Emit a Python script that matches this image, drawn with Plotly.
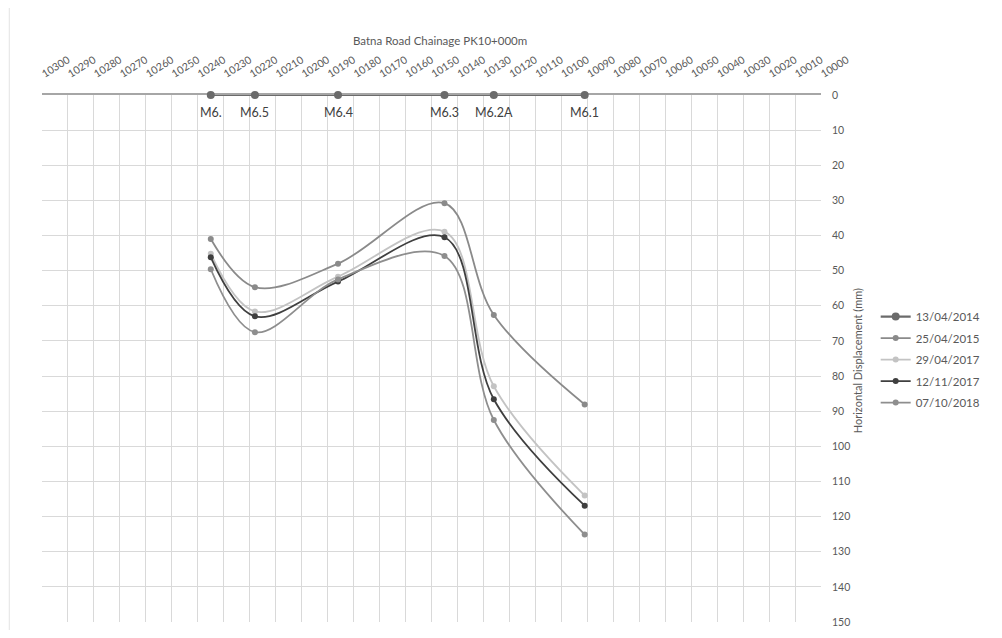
import plotly.graph_objects as go

# ---- data ----
chainage = [10235, 10218, 10186, 10145, 10126, 10091]
point_labels = ["M6.", "M6.5", "M6.4", "M6.3", "M6.2A", "M6.1"]

d_2014 = [0, 0, 0, 0, 0, 0]
d_2015 = [41.0, 54.7, 48.0, 30.8, 62.6, 88.1]
d_2017a = [45.2, 61.6, 51.7, 38.9, 82.9, 114.0]
d_2017b = [46.2, 63.0, 53.1, 40.5, 86.6, 116.9]
d_2018 = [49.6, 67.5, 52.5, 45.8, 92.5, 125.1]

series_names = ["13/04/2014", "25/04/2015", "29/04/2017", "12/11/2017", "07/10/2018"]

x_ticks = list(range(10000, 10301, 10))
y_ticks = list(range(0, 151, 10))

FONT = "Lato"
TXT = "#595959"
GRID = "#d9d9d9"

fig = go.Figure()

series = [
    (series_names[0], d_2014, "#6b6b6b", 8, 2.2),
    (series_names[1], d_2015, "#8a8a8a", 6, 1.8),
    (series_names[2], d_2017a, "#c3c3c3", 6, 1.8),
    (series_names[3], d_2017b, "#3f3f3f", 6, 1.8),
    (series_names[4], d_2018, "#8e8e8e", 6, 1.8),
]

for i, (name, vals, col, msize, lw) in enumerate(series):
    fig.add_trace(
        go.Scatter(
            x=chainage,
            y=vals,
            name=name,
            legendgroup=name,
            mode="lines+markers",
            cliponaxis=False if i == 0 else True,
            line=dict(color=col, width=lw, shape="spline"),
            marker=dict(color=col, size=msize),
        )
    )

# point labels under the baseline markers
annotations = [
    dict(x=cx, y=d_2014[k], xref="x", yref="y", text=lab, showarrow=False,
         yshift=-17, font=dict(family=FONT, size=12.5, color="#404040"))
    for k, (cx, lab) in enumerate(zip(chainage, point_labels))
]
annotations += [
    dict(text="Batna Road Chainage PK10+000m", xref="paper", yref="paper",
         x=0.511, y=1.1025, xanchor="center", yanchor="middle", showarrow=False,
         font=dict(family=FONT, size=11.5, color=TXT)),
    dict(text="Horizontal Displacement (mm)", xref="paper", yref="paper",
         x=1.0464, y=0.495, xanchor="center", yanchor="middle", textangle=-90,
         showarrow=False, font=dict(family=FONT, size=11, color=TXT)),
]

fig.update_layout(
    width=986,
    height=622,
    margin=dict(l=34, r=154, t=87, b=8),
    paper_bgcolor="white",
    plot_bgcolor="white",
    font=dict(family=FONT, color=TXT),
    showlegend=True,
    legend=dict(
        x=1.0702,
        y=0.607,
        xanchor="left",
        yanchor="top",
        font=dict(family=FONT, size=11.5, color=TXT),
        tracegroupgap=2.5,
        bgcolor="rgba(0,0,0,0)",
    ),
    xaxis=dict(
        side="top",
        automargin=False,
        layer="below traces",
        range=[10300, 10000],
        tickmode="array",
        tickvals=x_ticks,
        ticktext=[str(v) for v in x_ticks],
        tickangle=-32,
        tickfont=dict(family=FONT, size=10.5, color=TXT),
        ticklabelstandoff=10,
        showgrid=True,
        gridcolor=GRID,
        gridwidth=1,
        showline=True,
        linecolor="#a6a6a6",
        linewidth=2,
        zeroline=False,
        ticks="",
    ),
    yaxis=dict(
        side="right",
        automargin=False,
        range=[150, 0],
        tickmode="array",
        tickvals=y_ticks,
        ticktext=[str(v) for v in y_ticks],
        tickfont=dict(family=FONT, size=10.5, color=TXT),
        showgrid=True,
        gridcolor=GRID,
        gridwidth=1,
        zeroline=False,
        showline=False,
        ticks="",
        ticklabelstandoff=10,
    ),
    annotations=annotations,
    shapes=[
        dict(type="line", xref="paper", yref="paper", x0=-0.0420, x1=-0.0420,
             y0=-0.02, y1=1.2, line=dict(color="#e3e3e3", width=1)),
    ],
)

fig.write_html("out.html")
